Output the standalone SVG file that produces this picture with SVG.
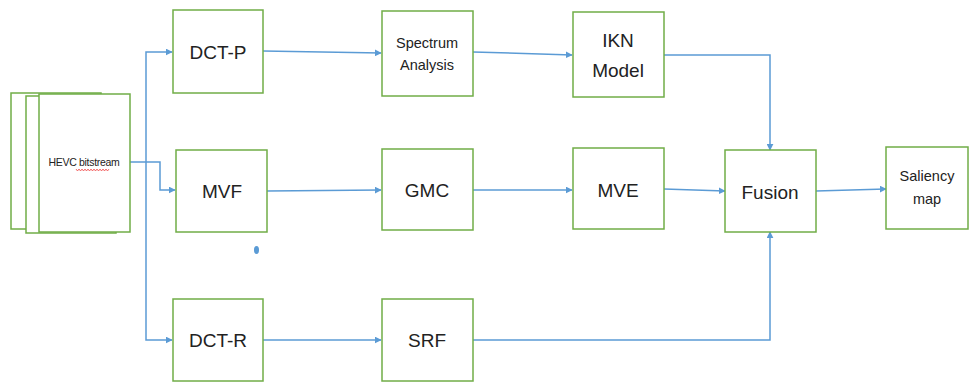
<svg xmlns="http://www.w3.org/2000/svg" width="969" height="383" viewBox="0 0 969 383">
<style>
.box{fill:#fff;stroke:#70AD47;stroke-width:1.5}
.lbl{font-family:"Liberation Sans",Arial,sans-serif;font-size:19px;fill:#222;text-anchor:middle}
.sm{font-size:14.5px}
.xs{font-size:10.5px;letter-spacing:-0.3px}
.c{fill:none;stroke:#5B9BD5;stroke-width:1.5}
</style>
<defs>
<marker id="ah" viewBox="0 0 10 10" refX="9" refY="5" markerWidth="7" markerHeight="7" markerUnits="userSpaceOnUse" orient="auto"><path d="M0,0 L10,5 L0,10 z" fill="#5B9BD5"/></marker>
</defs>
<rect width="969" height="383" fill="#fff"/>
<g id="connectors">
<path class="c" d="M130,162 H160 V190 H175" marker-end="url(#ah)"/>
<path class="c" d="M146,162 V52 H172" marker-end="url(#ah)"/>
<path class="c" d="M146,162 V340 H172" marker-end="url(#ah)"/>
<path class="c" d="M263,51 L381,53" marker-end="url(#ah)"/>
<path class="c" d="M473,52 L572,55" marker-end="url(#ah)"/>
<path class="c" d="M664,55 H770 V150" marker-end="url(#ah)"/>
<path class="c" d="M267,191 L381,190" marker-end="url(#ah)"/>
<path class="c" d="M473,190 L572,190" marker-end="url(#ah)"/>
<path class="c" d="M664,189 L725,191" marker-end="url(#ah)"/>
<path class="c" d="M816,191 L886,189" marker-end="url(#ah)"/>
<path class="c" d="M263,340 L381,340" marker-end="url(#ah)"/>
<path class="c" d="M473,340 H770 V232" marker-end="url(#ah)"/>
</g>
<g id="hevc">
<rect class="box" x="11" y="93" width="90" height="136"/>
<rect class="box" x="26" y="96" width="90" height="137"/>
<rect class="box" x="39" y="94" width="91" height="138"/>
<text class="lbl xs" x="84" y="166">HEVC bitstream</text>
<path d="M76,169 l1.5,2 l1.5,-2 l1.5,2 l1.5,-2 l1.5,2 l1.5,-2 l1.5,2 l1.5,-2 l1.5,2 l1.5,-2 l1.5,2 l1.5,-2 l1.5,2 l1.5,-2 l1.5,2 l1.5,-2 l1.5,2 l1.5,-2 l1.5,2 l1.5,-2 l1.5,2 l1.5,-2" fill="none" stroke="#e33" stroke-width="0.7"/>
</g>
<g id="dctp"><rect class="box" x="173" y="10" width="90" height="83"/><text class="lbl" x="218" y="59">DCT-P</text></g>
<g id="spectrum"><rect class="box" x="382" y="11" width="91" height="85"/><text class="lbl sm" x="427" y="48">Spectrum</text><text class="lbl sm" x="427" y="70">Analysis</text></g>
<g id="ikn"><rect class="box" x="573" y="12" width="91" height="85"/><text class="lbl" x="618" y="47">IKN</text><text class="lbl" x="618" y="77">Model</text></g>
<g id="mvf"><rect class="box" x="176" y="150" width="91" height="82"/><text class="lbl" x="222" y="198">MVF</text></g>
<g id="gmc"><rect class="box" x="382" y="149" width="91" height="81"/><text class="lbl" x="427" y="197">GMC</text></g>
<g id="mve"><rect class="box" x="573" y="148" width="91" height="81"/><text class="lbl" x="618" y="197">MVE</text></g>
<g id="fusion"><rect class="box" x="725" y="150" width="91" height="82"/><text class="lbl" x="770" y="199">Fusion</text></g>
<g id="saliency"><rect class="box" x="886" y="147" width="82" height="82"/><text class="lbl sm" x="927" y="181">Saliency</text><text class="lbl sm" x="927" y="204">map</text></g>
<g id="dctr"><rect class="box" x="173" y="299" width="90" height="82"/><text class="lbl" x="218" y="347">DCT-R</text></g>
<g id="srf"><rect class="box" x="382" y="299" width="91" height="82"/><text class="lbl" x="427" y="347">SRF</text></g>
<ellipse cx="256.5" cy="250" rx="2.5" ry="4" fill="#5B9BD5"/>
</svg>
